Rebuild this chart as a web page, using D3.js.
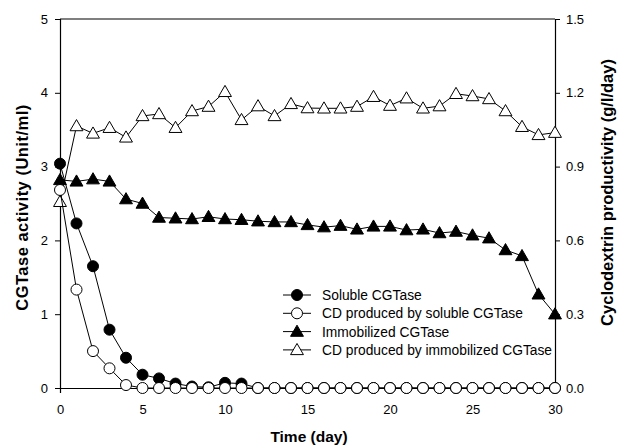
<!DOCTYPE html>
<html>
<head>
<meta charset="utf-8">
<script src="https://cdn.jsdelivr.net/npm/d3@7"></script>
<style>
  body { margin: 0; background: #fff; }
  svg text { font-family: Arial, "Liberation Sans", sans-serif; fill: #000; }
</style>
</head>
<body>
<svg id="chart" width="617" height="447"></svg>
<script>
// days 0..30
var days = d3.range(0, 31);

// soluble CGTase activity (Unit/ml), left axis
var solubleCGTase = [3.04, 2.23, 1.65, 0.79, 0.41, 0.18, 0.13, 0.06, 0.02, 0.01, 0.07, 0.06,
  0, 0, 0, 0, 0, 0, 0, 0, 0, 0, 0, 0, 0, 0, 0, 0, 0, 0, 0];

// CD produced by soluble CGTase (g/l/day), right axis
var cdSoluble = [0.805, 0.40, 0.15, 0.08, 0.012, 0, 0, 0, 0, 0, 0, 0,
  0, 0, 0, 0, 0, 0, 0, 0, 0, 0, 0, 0, 0, 0, 0, 0, 0, 0, 0];

// immobilized CGTase activity (Unit/ml), left axis
var immobCGTase = [2.82, 2.80, 2.83, 2.80, 2.56, 2.50, 2.31, 2.30, 2.29, 2.32, 2.29, 2.28,
  2.26, 2.25, 2.25, 2.21, 2.18, 2.20, 2.15, 2.19, 2.19, 2.14, 2.15, 2.10, 2.12, 2.07,
  2.03, 1.87, 1.79, 1.27, 1.00];

// CD produced by immobilized CGTase (g/l/day), right axis
var cdImmob = [0.757, 1.065, 1.035, 1.058, 1.019, 1.106, 1.114, 1.058, 1.126, 1.144, 1.204,
  1.090, 1.146, 1.106, 1.155, 1.138, 1.137, 1.137, 1.144, 1.184, 1.148, 1.178, 1.137,
  1.146, 1.196, 1.187, 1.175, 1.126, 1.062, 1.029, 1.038];

var xTicks = [0, 5, 10, 15, 20, 25, 30];
var leftTicks = [0, 1, 2, 3, 4, 5];
var rightTicks = [0, 0.3, 0.6, 0.9, 1.2, 1.5];

var legendLabels = ["Soluble CGTase", "CD produced by soluble CGTase",
  "Immobilized CGTase", "CD produced by immobilized CGTase"];

var svg = d3.select("#chart");
var plotL = 60, plotR = 555, plotT = 19, plotB = 388;

var x = d3.scaleLinear().domain([0, 30]).range([plotL, plotR]);
var yL = d3.scaleLinear().domain([0, 5]).range([plotB, plotT]);
var yR = d3.scaleLinear().domain([0, 1.5]).range([plotB, plotT]);

// frame top line
svg.append("line")
  .attr("x1", plotL).attr("x2", plotR).attr("y1", plotT).attr("y2", plotT)
  .attr("stroke", "#000").attr("stroke-width", 1.2);

var xAxis = svg.append("g")
  .attr("transform", "translate(0," + plotB + ")")
  .call(d3.axisBottom(x).tickValues(xTicks).tickSize(5).tickPadding(12).tickFormat(d3.format("d")));
var lAxis = svg.append("g")
  .attr("transform", "translate(" + plotL + ",0)")
  .call(d3.axisLeft(yL).tickValues(leftTicks).tickSize(5).tickPadding(7).tickFormat(d3.format("d")));
var rAxis = svg.append("g")
  .attr("transform", "translate(" + plotR + ",0)")
  .call(d3.axisRight(yR).tickValues(rightTicks).tickSize(5).tickPadding(6).tickFormat(d3.format(".1f")));

[xAxis, lAxis, rAxis].forEach(function (g) {
  g.select(".domain").attr("stroke", "#000").attr("stroke-width", 1.2);
  g.selectAll(".tick line").attr("stroke", "#000");
  g.selectAll(".tick text").style("font-size", "13px").attr("fill", "#000");
  g.attr("font-family", null);
});

// axis titles
svg.append("text")
  .attr("x", 309).attr("y", 442)
  .attr("text-anchor", "middle")
  .style("font-size", "15.5px").style("font-weight", "bold")
  .text("Time (day)");
svg.append("text")
  .attr("transform", "translate(27.5,207.5) rotate(-90)")
  .attr("text-anchor", "middle")
  .style("font-size", "16.5px").style("font-weight", "bold")
  .style("letter-spacing", "0.5px")
  .text("CGTase activity (Unit/ml)");
svg.append("text")
  .attr("transform", "translate(613,192.5) rotate(-90)")
  .attr("text-anchor", "middle")
  .style("font-size", "16.5px").style("font-weight", "bold")
  .text("Cyclodextrin productivity (g/l/day)");

var triangle = d3.symbol().type(d3.symbolTriangle).size(72);
var circleR = 5.5;

var series = [
  { vals: solubleCGTase, y: yL, shape: "circle", fill: "#000" },
  { vals: cdSoluble, y: yR, shape: "circle", fill: "#fff" },
  { vals: immobCGTase, y: yL, shape: "triangle", fill: "#000" },
  { vals: cdImmob, y: yR, shape: "triangle", fill: "#fff" }
];

var line = d3.line();

// draw order: filled circles first so open circles cover the zeros
var order = [0, 3, 2, 1];
order.forEach(function (i) {
  var s = series[i];
  var pts = days.map(function (d, k) { return [x(d), s.y(s.vals[k])]; });
  svg.append("path")
    .attr("d", line(pts))
    .attr("fill", "none").attr("stroke", "#000").attr("stroke-width", 1);
  var g = svg.append("g");
  pts.forEach(function (p) {
    if (s.shape === "circle") {
      g.append("circle").attr("cx", p[0]).attr("cy", p[1]).attr("r", circleR)
        .attr("fill", s.fill).attr("stroke", "#000").attr("stroke-width", 1);
    } else {
      g.append("path").attr("d", triangle)
        .attr("transform", "translate(" + p[0] + "," + (p[1] + 1) + ")")
        .attr("fill", s.fill).attr("stroke", "#000").attr("stroke-width", 1);
    }
  });
});

// legend
var lg = svg.append("g");
legendLabels.forEach(function (lab, i) {
  var s = series[i];
  var yy = 295 + i * 18.3;
  lg.append("line").attr("x1", 283).attr("x2", 311).attr("y1", yy).attr("y2", yy)
    .attr("stroke", "#000").attr("stroke-width", 1);
  if (s.shape === "circle") {
    lg.append("circle").attr("cx", 297).attr("cy", yy).attr("r", circleR)
      .attr("fill", s.fill).attr("stroke", "#000");
  } else {
    lg.append("path").attr("d", triangle)
      .attr("transform", "translate(297," + (yy + 1) + ")")
      .attr("fill", s.fill).attr("stroke", "#000");
  }
  lg.append("text").attr("x", 322).attr("y", yy + 5)
    .style("font-size", "13.8px").text(lab);
});
</script>
</body>
</html>
